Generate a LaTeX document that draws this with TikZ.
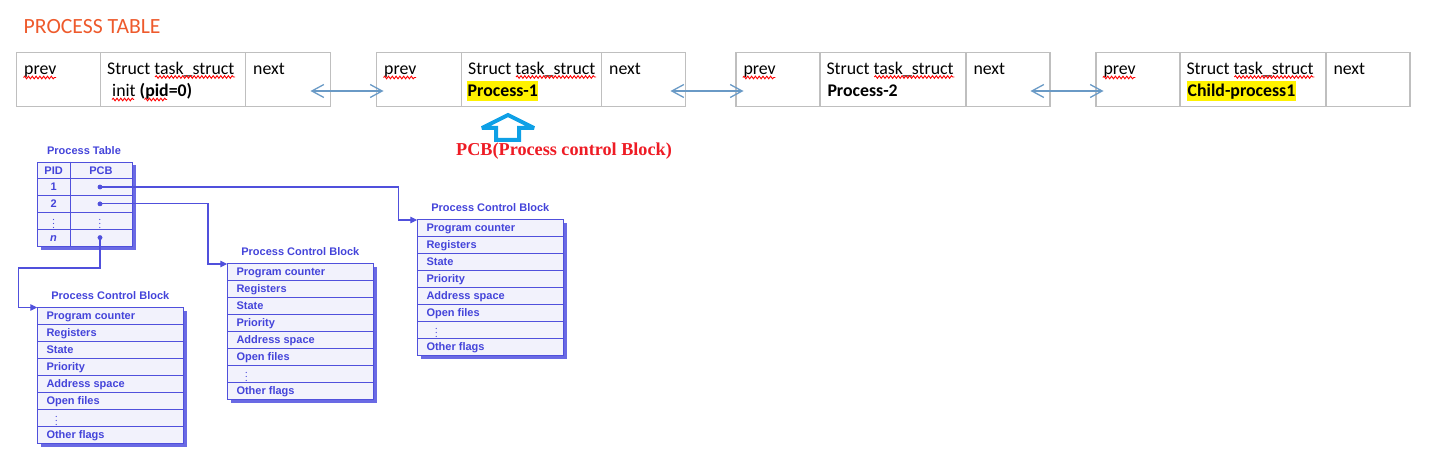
\documentclass[tikz,border=0pt]{standalone}
\usepackage{fontspec}
\setmainfont{Carlito}
\newfontfamily\arialf{Liberation Sans}
\newfontfamily\timesf{Liberation Serif}
\usetikzlibrary{arrows.meta,decorations.pathmorphing,calc}
\definecolor{boxgray}{HTML}{BFBFBF}
\definecolor{titleorange}{HTML}{EE5A2C}
\definecolor{linkblue}{HTML}{6A9AC6}
\definecolor{pcbcyan}{HTML}{0EA0E6}
\definecolor{pcbred}{HTML}{EE1C25}
\definecolor{ptextc}{HTML}{4444DA}
\definecolor{plinec}{HTML}{5050DC}
\definecolor{pfillc}{HTML}{F2F2FC}
\definecolor{pshadowc}{HTML}{6A6AE4}
\tikzset{
  tcell/.style={draw=boxgray, line width=1.2pt, minimum height=54pt, inner sep=0pt, anchor=north west},
  ttext/.style={anchor=base west, inner sep=0pt, font=\fontsize{17.8}{21}\selectfont},
  squig/.style={draw=red, line width=0.9pt, decorate, decoration={snake, amplitude=1.3pt, segment length=3.8pt}},
  link/.style={draw=linkblue, line width=1.3pt, {Straight Barb[length=12pt,width=13pt]}-{Straight Barb[length=12pt,width=13pt]}},
  hilite/.style={fill=yellow, inner xsep=0.5pt, inner ysep=0pt, text height=15pt, text depth=4.5pt, anchor=base west, font=\fontsize{17.8}{21}\selectfont\bfseries},
  pbox/.style={fill=pfillc, draw=plinec, line width=1pt, inner sep=0pt, anchor=north west},
  pshade/.style={fill=pshadowc},
  pgrid/.style={draw=plinec, line width=1pt},
  ptitle/.style={inner sep=0pt, text=ptextc, font=\arialf\bfseries\fontsize{11}{13}\selectfont},
  ptext/.style={inner sep=0pt, anchor=base west, text=ptextc, font=\arialf\bfseries\fontsize{11}{13}\selectfont},
  pctext/.style={inner sep=0pt, anchor=base, text=ptextc, font=\arialf\bfseries\fontsize{11}{13}\selectfont},
  pvdots/.style={inner sep=0pt, text=ptextc, font=\fontsize{10}{12}\selectfont},
  pdot/.style={circle, fill=plinec, inner sep=0pt, minimum size=4.6pt},
  plinkarrow/.style={draw=plinec, line width=1.1pt, -{Triangle[length=7pt,width=6.5pt]}},
}
% top task_struct box: name, x0, x1, x2, x3
\newcommand\tbox[5]{%
  \node[tcell, minimum width={#3pt-#2pt}] (#1prev) at (#2,52) {};
  \node[tcell, minimum width={#4pt-#3pt}] (#1mid) at (#3,52) {};
  \node[tcell, minimum width={#5pt-#4pt}] (#1next) at (#4,52) {};
  \node[ttext] (#1prevt) at (#2+8,74.5) {prev};
  \node[ttext] (#1midt) at (#3+7,74.5) {Struct task\_struct};
  \node[ttext] (#1nextt) at (#4+8,74.5) {next};
  \draw[squig] (#2+7.5,77.5) -- (#2+40,77.5);
  \draw[squig] (#3+55,77) -- (#3+135,77);
}
% process control block: name, x, y
\newcommand\pcbblock[3]{%
  \fill[pshade] (#2+3.8,#3+3.8) rectangle (#2+149.8,#3+139.8);
  \node[pbox, minimum width=146pt, minimum height=136pt] (#1) at (#2,#3) {};
  \node[ptitle] (#1t) at (#2+73,#3-11.5) {Process Control Block};
  \foreach \k in {1,...,7} {\draw[pgrid] (#2,#3+17*\k) -- (#2+146,#3+17*\k);}
  \foreach \lab [count=\k from 0] in {Program counter,Registers,State,Priority,Address space,Open files}
    {\node[ptext] (#1r\k) at (#2+9,#3+17*\k+12.2) {\lab};}
  \node[pvdots] (#1r6) at (#2+19,#3+17*6+8.5) {$\vdots$};
  \node[ptext] (#1r7) at (#2+9,#3+17*7+12.2) {Other flags};
}
\begin{document}
\begin{tikzpicture}[x=1pt,y=-1pt]
\useasboundingbox (0,0) rectangle (1431,462);
% title
\node[anchor=base west, inner sep=0pt, text=titleorange, font=\fontsize{21.7}{26}\selectfont] (title) at (23.5,33.3) {PROCESS TABLE};
% task_struct boxes
\tbox{bA}{16}{100}{245}{329.5}
\tbox{bB}{376}{461}{601}{684.5}
\tbox{bC}{735.3}{819.3}{965.3}{1049.3}
\tbox{bD}{1095.3}{1179.3}{1325.3}{1409.3}
\node[ttext] (bAl2) at (112,96.5) {init \textbf{(pid=0)}};
\draw[squig] (112,99.5) -- (134,99.5);
\draw[squig] (144.5,99.5) -- (167,99.5);
\node[hilite] (bBl2) at (467,96.5) {Process-1};
\node[ttext, font=\fontsize{17.8}{21}\selectfont\bfseries] (bCl2) at (827.3,96.5) {Process-2};
\node[hilite] (bDl2) at (1187,96.5) {Child-process1};
% double links
\coordinate (l1a) at (310.5,91); \coordinate (l1b) at (383.5,91);
\coordinate (l2a) at (670.5,91); \coordinate (l2b) at (743.5,91);
\coordinate (l3a) at (1030.5,91); \coordinate (l3b) at (1103.5,91);
\draw[link] (l1a) -- (l1b);
\draw[link] (l2a) -- (l2b);
\draw[link] (l3a) -- (l3b);
% PCB up arrow
\draw[draw=pcbcyan, line width=4pt, line join=miter, miter limit=2]
  (508,115) -- (534,128) -- (519,128) -- (519,140) -- (496,140) -- (496,128) -- (482,128) -- cycle;
\node[inner sep=0pt, text=pcbred, font=\timesf\bfseries\fontsize{18.2}{22}\selectfont] (pcblabel) at (564,151.5) {PCB(Process control Block)};
% process table
\node[ptitle] (pttitle) at (84,151) {Process Table};
\fill[pshade] (40.8,165.5) rectangle (135.5,249.8);
\node[pbox, minimum width=94.7pt, minimum height=84.3pt] (ptab) at (37,161.7) {};
\foreach \k in {1,...,4} {\draw[pgrid] (37,161.7+16.86*\k) -- (131.7,161.7+16.86*\k);}
\draw[pgrid] (70.3,161.7) -- (70.3,246);
\node[pctext] (hpid) at (53.6,174.2) {PID};
\node[pctext] (hpcb) at (101,174.2) {PCB};
\node[pctext] (n1) at (53.6,191) {1};
\node[pctext] (n2) at (53.6,207.9) {2};
\node[pvdots] (v1) at (53.6,220.7) {$\vdots$};
\node[pvdots] (v2) at (100,220.7) {$\vdots$};
\node[pctext] (nn) at (53.6,241.6) {\itshape n};
% PCB blocks
\pcbblock{pcbA}{37.3}{307.3}
\pcbblock{pcbB}{227.3}{263.3}
\pcbblock{pcbC}{417.3}{219.3}
% pointers
\coordinate (c1) at (398.3,220);
\coordinate (c2) at (208,264);
\coordinate (c3) at (18.3,268);
\coordinate (c4) at (18.3,307.5);
\node[pdot] (d1) at (100,187) {};
\node[pdot] (d2) at (100,203.9) {};
\node[pdot] (dn) at (100,237.6) {};
\draw[plinkarrow] (d1.center) -| (c1) -- (c1 -| pcbC.west);
\draw[plinkarrow] (d2.center) -| (c2) -- (c2 -| pcbB.west);
\draw[plinkarrow] (dn.center) |- (c3) -- (c4) -- (c4 -| pcbA.west);
\node[pdot] at (d1) {};
\node[pdot] at (d2) {};
\node[pdot] at (dn) {};
\end{tikzpicture}
\end{document}
